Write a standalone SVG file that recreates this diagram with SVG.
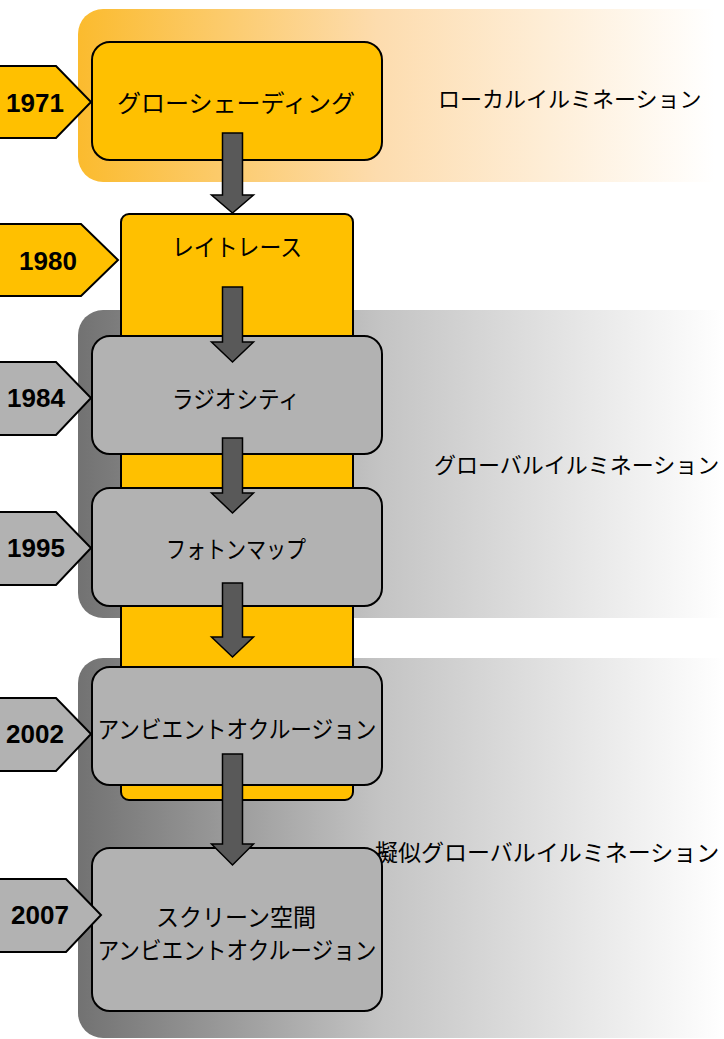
<svg xmlns="http://www.w3.org/2000/svg" width="724" height="1039" viewBox="0 0 724 1039">
<defs>
<linearGradient id="gLocal" gradientUnits="userSpaceOnUse" x1="78" y1="0" x2="715" y2="0">
<stop offset="0" stop-color="#FBBB2E"/>
<stop offset="0.47" stop-color="#FDDCAE"/>
<stop offset="1" stop-color="#FFFFFF"/>
</linearGradient>
<linearGradient id="gGray" gradientUnits="userSpaceOnUse" x1="78" y1="0" x2="724" y2="0">
<stop offset="0" stop-color="#727272"/>
<stop offset="0.47" stop-color="#C4C4C4"/>
<stop offset="1" stop-color="#FFFFFF"/>
</linearGradient>
<style>
.y{fill:#FFC000;stroke:#000;stroke-width:2}
.g{fill:#B2B2B2;stroke:#000;stroke-width:2}
.t{font-family:"Noto Sans CJK JP","Noto Sans CJK SC",sans-serif;font-size:24px;fill:#000;text-anchor:middle;dominant-baseline:central}
.l{font-family:"Noto Sans CJK JP","Noto Sans CJK SC",sans-serif;font-size:22px;fill:#000;text-anchor:start;dominant-baseline:central}
.yr{font-family:"Liberation Sans",Arial,sans-serif;font-weight:bold;font-size:26px;fill:#000;text-anchor:middle;dominant-baseline:central}
.ar{fill:#595959;stroke:#000;stroke-width:1.5;stroke-linejoin:miter}
</style>
</defs>

<g id="band-local">
<rect x="78" y="9" width="700" height="173" rx="25" fill="url(#gLocal)"/>
<text class="l" x="438" y="97">ローカルイルミネーション</text>
</g>
<g id="band-global">
<rect x="78" y="310" width="700" height="308" rx="25" fill="url(#gGray)"/>
<text class="l" x="434" y="463">グローバルイルミネーション</text>
</g>
<g id="band-pseudo">
<rect x="78" y="658" width="700" height="380" rx="25" fill="url(#gGray)"/>
<text class="l" x="375" y="851" style="font-size:23px">擬似グローバルイルミネーション</text>
</g>

<g id="node-raytrace">
<rect class="y" x="121" y="214" width="232" height="586" rx="8"/>
<text class="t" x="237" y="245" textLength="130" lengthAdjust="spacingAndGlyphs">レイトレース</text>
</g>

<g id="node-gouraud">
<rect class="y" x="92" y="42" width="290" height="118" rx="18"/>
<text class="t" x="236" y="101" textLength="238" lengthAdjust="spacingAndGlyphs">グローシェーディング</text>
</g>
<g id="node-radiosity">
<rect class="g" x="92" y="336" width="290" height="118" rx="18"/>
<text class="t" x="236" y="397" textLength="128" lengthAdjust="spacingAndGlyphs">ラジオシティ</text>
</g>
<g id="node-photon">
<rect class="g" x="92" y="488" width="290" height="118" rx="18"/>
<text class="t" x="236" y="547" textLength="140" lengthAdjust="spacingAndGlyphs">フォトンマップ</text>
</g>
<g id="node-ao">
<rect class="g" x="92" y="667" width="290" height="118" rx="18"/>
<text class="t" x="237" y="727" textLength="279" lengthAdjust="spacingAndGlyphs">アンビエントオクルージョン</text>
</g>
<g id="node-ssao">
<rect class="g" x="92" y="848" width="290" height="163" rx="18"/>
<text class="t" x="236" y="915" textLength="160" lengthAdjust="spacingAndGlyphs">スクリーン空間</text>
<text class="t" x="237" y="948" textLength="279" lengthAdjust="spacingAndGlyphs">アンビエントオクルージョン</text>
</g>

<g id="tag-1971">
<polygon class="y" points="-5,66 56,66 91,102 56,138 -5,138"/>
<text class="yr" x="35" y="103">1971</text>
</g>
<g id="tag-1980">
<polygon class="y" points="-5,224 81,224 118,260 81,296 -5,296"/>
<text class="yr" x="48" y="261">1980</text>
</g>
<g id="tag-1984">
<polygon class="g" points="-5,362 56,362 91,398 56,435 -5,435"/>
<text class="yr" x="36" y="398">1984</text>
</g>
<g id="tag-1995">
<polygon class="g" points="-5,512 56,512 91,548 56,585 -5,585"/>
<text class="yr" x="36" y="548">1995</text>
</g>
<g id="tag-2002">
<polygon class="g" points="-5,698 56,698 91,734 56,771 -5,771"/>
<text class="yr" x="35" y="734">2002</text>
</g>
<g id="tag-2007">
<polygon class="g" points="-5,879 66,879 101,915 66,952 -5,952"/>
<text class="yr" x="40" y="915">2007</text>
</g>

<g id="connectors">
<polygon class="ar" points="222.5,133 242.5,133 242.5,195 253.5,195 232.5,213 211.5,195 222.5,195"/>
<polygon class="ar" points="222.5,287 242.5,287 242.5,342 253.5,342 232.5,362 211.5,342 222.5,342"/>
<polygon class="ar" points="222.5,438 242.5,438 242.5,493 253.5,493 232.5,513 211.5,493 222.5,493"/>
<polygon class="ar" points="222.5,583 242.5,583 242.5,637 253.5,637 232.5,657 211.5,637 222.5,637"/>
<polygon class="ar" points="222.5,754 242.5,754 242.5,844 253.5,844 232.5,865 211.5,844 222.5,844"/>
</g>
</svg>
